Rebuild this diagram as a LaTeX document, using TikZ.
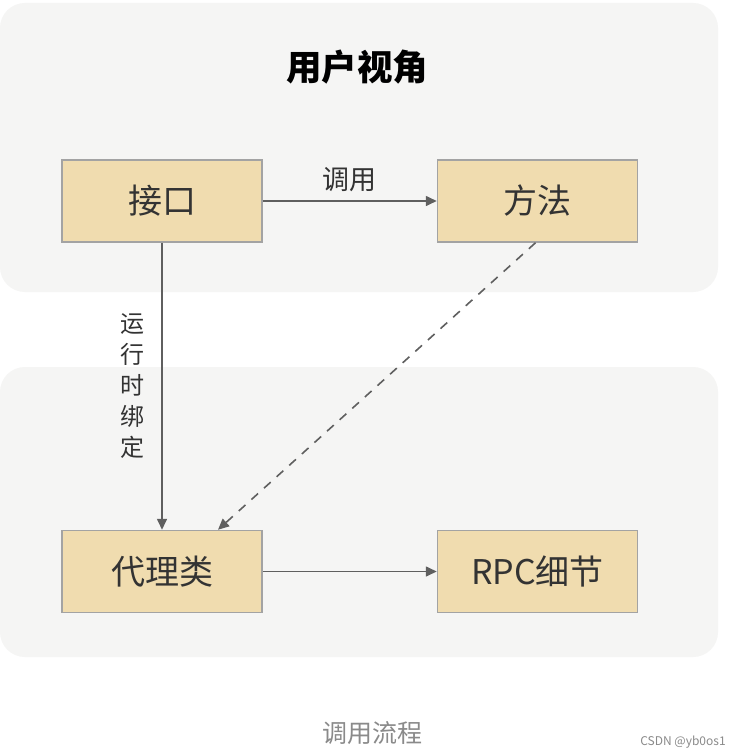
\documentclass[tikz,border=0pt]{standalone}
\usepackage{fontspec}
\usepackage{tikz}
\usetikzlibrary{arrows.meta,positioning}
\newfontfamily\cjk{Noto Sans CJK SC}
\definecolor{panelgray}{HTML}{F5F5F4}
\definecolor{boxfill}{HTML}{F0DCAF}
\definecolor{boxline}{HTML}{A3A3A3}
\definecolor{arrowgray}{HTML}{5F5F5F}
\definecolor{textdark}{HTML}{333333}
\definecolor{captiongray}{HTML}{8A8A8A}
\tikzset{
  panel/.style={fill=panelgray, draw=none, rounded corners=25pt},
  stepbox/.style={draw=boxline, line width=1.5pt, fill=boxfill, minimum width=200pt, minimum height=82pt, text=textdark, font=\cjk\fontsize{34}{34}\selectfont},
  flow/.style={draw=arrowgray, line width=1.6pt, -{Triangle[length=11pt,width=10pt]}},
  flowlabel/.style={text=textdark, font=\cjk\fontsize{27}{27}\selectfont},
}

\begin{document}
\begin{tikzpicture}[x=1pt,y=-1pt]
\useasboundingbox (0,0) rectangle (734,754);
\fill[white] (0,0) rectangle (734,754);
% panels
\fill[panel] (0,3) rectangle (718,292);
\fill[panel] (0,367) rectangle (718,657);
\node[font=\cjk\bfseries\fontsize{35.5}{35.5}\selectfont, text=black] (title) at (357,67) {用户视角};
% boxes
\node[stepbox] (iface) at (162,201) {接口};
\node[stepbox] (method) at (537.5,201) {方法};
\node[stepbox] (proxy) at (162,571.5) {代理类};
\node[stepbox] (rpc) at (537.5,571.5) {RPC细节};
% connectors
\draw[flow] (iface) -- node[flowlabel, above=5pt] {调用} (method);
\draw[flow] (iface.south) -- node[text=textdark, left=13pt, align=center, font=\cjk\fontsize{24}{31}\selectfont] {运\\行\\时\\绑\\定} (proxy.north);
\draw[flow, dash pattern=on 9pt off 8pt] ([xshift=-2pt]method.south) -- ([xshift=56pt]proxy.north);
\draw[flow] (proxy) -- (rpc);
% caption
\node[text=captiongray, font=\cjk\fontsize{25}{25}\selectfont] (caption) at (372,733) {调用流程};
\node[text=captiongray, font=\cjk\fontsize{12}{12}\selectfont] (mark) at (683,742) {CSDN @yb0os1};
\end{tikzpicture}
\end{document}
